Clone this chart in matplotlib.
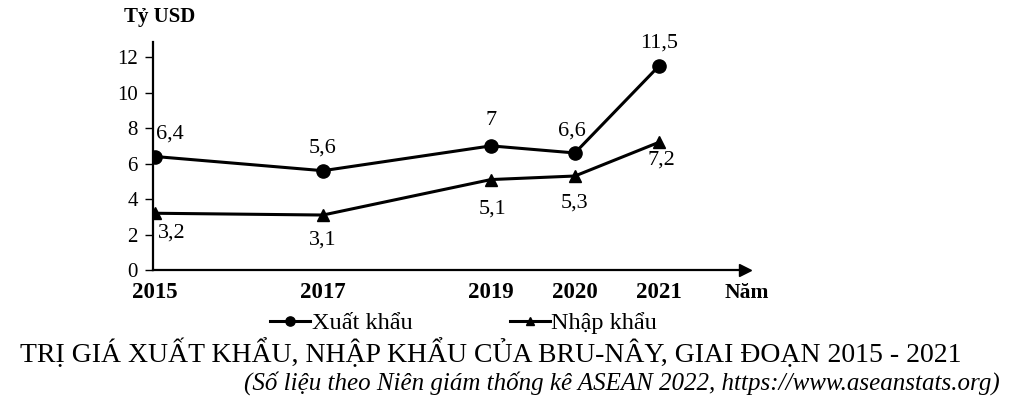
import matplotlib.pyplot as plt

# du lieu
years = [2015, 2017, 2019, 2020, 2021]
xuat_khau = [6.4, 5.6, 7.0, 6.6, 11.5]
nhap_khau = [3.2, 3.1, 5.1, 5.3, 7.2]
xk_labels = ["6,4", "5,6", "7", "6,6", "11,5"]
nk_labels = ["3,2", "3,1", "5,1", "5,3", "7,2"]
y_ticks = [0, 2, 4, 6, 8, 10, 12]

plt.rcParams["font.family"] = ["Liberation Serif", "DejaVu Serif"]

fig = plt.figure(figsize=(10.1, 4.04), dpi=100)
ax = fig.add_axes([0.1515, 0.3317, 0.586, 0.564])

ax.plot(years, xuat_khau, color="black", lw=2.2, marker="o", ms=9.5, label="Xuất khẩu")
ax.plot(years, nhap_khau, color="black", lw=2.2, marker="^", ms=8.5, label="Nhập khẩu")

ax.set_xlim(2014.976, 2022.024)
ax.set_ylim(0, 12.85)

# nhan so lieu (lech tinh theo point)
xk_off = [(11, 16.5), (0, 16), (0, 18), (-2, 16), (0, 16.5)]
nk_off = [(12, -14), (0, -18), (1, -21), (0, -19.5), (1.5, -12.5)]
for x, y, s, o in zip(years, xuat_khau, xk_labels, xk_off):
    ax.annotate(s, (x, y), xytext=o, textcoords="offset points",
                ha="center", va="center", fontsize=16)
for x, y, s, o in zip(years, nhap_khau, nk_labels, nk_off):
    ax.annotate(s, (x, y), xytext=o, textcoords="offset points",
                ha="center", va="center", fontsize=16)

# truc
ax.spines["top"].set_visible(False)
ax.spines["right"].set_visible(False)
ax.spines["left"].set_linewidth(1.6)
ax.spines["bottom"].set_linewidth(1.6)
ax.plot(1, 0, ">k", ms=8, transform=ax.get_yaxis_transform(), clip_on=False)
ax.plot(0, 1, "^k", ms=8, transform=ax.get_xaxis_transform(), clip_on=False)

ax.set_xticks(years)
ax.set_xticklabels([str(y) for y in years], fontweight="bold", fontsize=16.5)
ax.tick_params(axis="x", length=0, pad=9)
ax.set_yticks(y_ticks)
ax.set_yticklabels([str(t) for t in y_ticks], fontsize=15)
ax.tick_params(axis="y", length=6, width=1, pad=5)

fig.text(0.123, 0.957, "Tỷ USD", fontweight="bold", fontsize=15, va="center")
fig.text(0.717, 0.275, "Năm", fontweight="bold", fontsize=15.5, va="center")

ax.legend(loc="center", bbox_to_anchor=(0.459, 0.2), bbox_transform=fig.transFigure,
          ncol=2, frameon=False, fontsize=17.5, columnspacing=4, handlelength=1.65,
          handletextpad=0.05, markerscale=0.7)

fig.text(0.02, 0.126, "TRỊ GIÁ XUẤT KHẨU, NHẬP KHẨU CỦA BRU-NÂY, GIAI ĐOẠN 2015 - 2021",
         fontsize=20, va="center")
fig.text(0.99, 0.052, "(Số liệu theo Niên giám thống kê ASEAN 2022, https://www.aseanstats.org)",
         fontsize=18, style="italic", ha="right", va="center")

plt.savefig("out.png")
